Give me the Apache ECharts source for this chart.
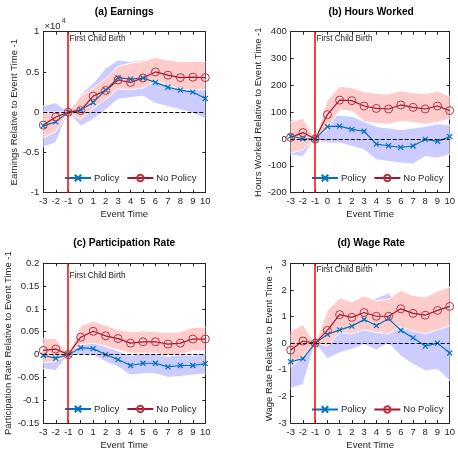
<!DOCTYPE html>
<html>
<head>
<meta charset="utf-8">
<script src="https://cdn.jsdelivr.net/npm/echarts@6/dist/echarts.min.js"></script>
<style>
html,body{margin:0;padding:0;background:#fff;}
#chart{width:458px;height:451px;}
</style>
</head>
<body>
<div id="chart"></div>
<script>
// ---------------- DATA ----------------
const EVENT_TIME = [-3,-2,-1,0,1,2,3,4,5,6,7,8,9,10];
const EVENT_X = -1;   // first child birth
const ZERO = 0;

// (a) Earnings (x10^4)
const earnPolicy    = [-0.17,-0.12,0,0.03,0.12,0.275,0.43,0.41,0.425,0.37,0.31,0.275,0.25,0.17];
const earnNoPolicy  = [-0.16,-0.06,0,0.02,0.20,0.27,0.40,0.37,0.425,0.50,0.46,0.43,0.435,0.43];
const earnPolicyLo  = [-0.43,-0.38,0,-0.17,-0.09,0.03,0.16,0.18,0.20,0.11,0.07,0.03,-0.01,-0.08];
const earnPolicyHi  = [0.08,0.12,0,0.22,0.36,0.55,0.65,0.63,0.65,0.63,0.55,0.52,0.51,0.41];
const earnNoPolLo   = [-0.32,-0.24,0,-0.09,0.05,0.155,0.29,0.28,0.30,0.39,0.34,0.28,0.28,0.28];
const earnNoPolHi   = [0.0,0.0,0,0.20,0.30,0.42,0.57,0.61,0.63,0.68,0.65,0.63,0.63,0.63];

// (b) Hours worked
const hoursPolicy   = [11,1,0,46,48,36,29,-19,-25,-31,-26,-1,-9,9];
const hoursNoPolicy = [6,24,0,91,145,143,123,114,112,127,118,112,123,106];
const hoursPolicyLo = [-60,-65,0,-15,-15,-27,-40,-77,-83,-89,-93,-65,-71,-58];
const hoursPolicyHi = [75,70,0,85,88,85,66,47,41,35,41,47,57,53];
const hoursNoPolLo  = [-53,-40,0,37,108,104,65,58,55,65,62,55,62,75];
const hoursNoPolHi  = [64,77,0,145,196,192,176,170,168,180,172,170,178,160];

// (c) Participation rate
const partPolicy    = [-0.002,-0.008,0,0.015,0.013,0,-0.011,-0.024,-0.019,-0.019,-0.027,-0.024,-0.024,-0.020];
const partNoPolicy  = [0.009,0.012,0,0.038,0.051,0.041,0.035,0.025,0.028,0.028,0.023,0.025,0.034,0.034];
const partPolicyLo  = [-0.031,-0.035,0,0.0,0.0,-0.016,-0.027,-0.045,-0.042,-0.042,-0.050,-0.048,-0.045,-0.043];
const partPolicyHi  = [0.025,0.020,0,0.032,0.030,0.018,0.008,-0.002,0.002,0.002,-0.004,0.0,-0.002,0.003];
const partNoPolLo   = [-0.018,-0.015,0,0.022,0.025,0.018,0.010,0.003,0.003,0.003,-0.002,0.0,0.008,0.008];
const partNoPolHi   = [0.035,0.035,0,0.063,0.073,0.064,0.055,0.050,0.052,0.050,0.048,0.050,0.060,0.060];

// (d) Wage rate
const wagePolicy    = [-0.70,-0.58,0,0.33,0.50,0.64,0.89,0.66,0.92,0.48,0.20,-0.11,0.0,-0.37];
const wageNoPolicy  = [-0.26,0.08,0,0.48,1.07,0.97,1.15,1.01,1.01,1.29,1.12,1.05,1.23,1.38];
const wagePolicyLo  = [-1.7,-1.55,0,-0.58,-0.36,-0.23,-0.05,-0.26,0.0,-0.48,-0.79,-1.04,-0.98,-1.41];
const wagePolicyHi  = [0.3,0.45,0,1.25,1.40,1.50,1.57,1.70,1.88,1.45,1.20,0.85,0.95,0.65];
const wageNoPolLo   = [-0.9,-0.5,0,-0.1,0.40,0.35,0.50,0.40,0.35,0.60,0.45,0.35,0.50,0.65];
const wageNoPolHi   = [0.45,0.70,0,1.22,1.70,1.55,1.78,1.60,1.65,1.98,1.80,1.73,1.95,2.12];

const titles = ['(a) Earnings','(b) Hours Worked','(c) Participation Rate','(d) Wage Rate'];
const yNames = ['Earnings Relative to Event Time -1','Hours Worked Relative to Event Time -1',
                'Participation Rate Relative to Event Time -1','Wage Rate Relative to Event Time -1'];
const yMins = [-1,-200,-0.15,-3];
const yMaxs = [1,400,0.2,3];
const yIntervals = [0.5,100,0.05,1];
const xName = 'Event Time';
const seriesNames = ['Policy','No Policy'];
const markerLabel = 'First Child Birth';

const panelData = [
  [earnPolicy, earnNoPolicy, earnPolicyLo, earnPolicyHi, earnNoPolLo, earnNoPolHi],
  [hoursPolicy, hoursNoPolicy, hoursPolicyLo, hoursPolicyHi, hoursNoPolLo, hoursNoPolHi],
  [partPolicy, partNoPolicy, partPolicyLo, partPolicyHi, partNoPolLo, partNoPolHi],
  [wagePolicy, wageNoPolicy, wagePolicyLo, wagePolicyHi, wageNoPolLo, wageNoPolHi]
];

// ---------------- LAYOUT / STYLE ----------------
const FONT = '"Liberation Sans", Arial, Helvetica, sans-serif';
const TXT = '#262626';
const BLUE = '#0072BD', RED = '#A2142F';
const BLUE_BAND = '#ccccff', PINK_BAND = '#ffcccc';
const grids = [
  {left:43.3, top:31.7, width:162, height:161},
  {left:290.7, top:31.7, width:161, height:161},
  {left:43.3, top:263.3, width:162, height:161.7},
  {left:290.7, top:263.3, width:161, height:161}
];
const yNameGaps = [21, 19, 27, 16];
const legendPos = [{left:64, top:173},{left:311, top:173},{left:64, top:404},{left:311, top:404.5}];
const titlePos = [[124.3,11.7],[371.2,11.7],[124.3,243.3],[371.2,243.3]];
const markerTextPos = [[69.5,39],[316.5,38.5],[69.5,275.7],[316.5,270]];
const X_PATH = 'path://M0,0L10,10M10,0L0,10';

function fmt(v){ return String(Math.round(v*10000)/10000); }

const xAxes = [], yAxes = [], series = [], legends = [], graphics = [];

grids.forEach((g, gi) => {
  const axisLine = {show:true, onZero:false, lineStyle:{color:TXT, width:1}};
  const tick = {show:true, inside:true, length:3, lineStyle:{color:TXT, width:1}};
  xAxes.push({type:'value', gridIndex:gi, min:-3, max:10, interval:1, position:'bottom',
    axisLine, axisTick:tick, splitLine:{show:false},
    axisLabel:{fontSize:9.5, color:TXT, fontFamily:FONT, margin:4, formatter:fmt},
    name:xName, nameLocation:'middle', nameGap:17,
    nameTextStyle:{fontSize:9.5, color:TXT, fontFamily:FONT}});
  xAxes.push({type:'value', gridIndex:gi, min:-3, max:10, interval:1, position:'top',
    axisLine, axisTick:tick, splitLine:{show:false}, axisLabel:{show:false}});
  yAxes.push({type:'value', gridIndex:gi, min:yMins[gi], max:yMaxs[gi], interval:yIntervals[gi], position:'left',
    axisLine, axisTick:tick, splitLine:{show:false},
    axisLabel:{fontSize:9.5, color:TXT, fontFamily:FONT, margin:4, formatter:fmt},
    name:yNames[gi], nameLocation:'middle', nameGap:yNameGaps[gi], nameRotate:90,
    nameTextStyle:{fontSize:9.5, color:TXT, fontFamily:FONT}});
  yAxes.push({type:'value', gridIndex:gi, min:yMins[gi], max:yMaxs[gi], interval:yIntervals[gi], position:'right',
    axisLine, axisTick:tick, splitLine:{show:false}, axisLabel:{show:false}});

  const [pol, nop, pLo, pHi, nLo, nHi] = panelData[gi];
  const xi = gi*2, yi = gi*2;

  function band(lo, hi, color, z){
    return {
      type:'custom', xAxisIndex:xi, yAxisIndex:yi, z:z, silent:true,
      data: EVENT_TIME.map((x,i)=>[x, lo[i], hi[i]]),
      encode:{x:0, y:[1,2]},
      renderItem:(params, api) => {
        if (params.dataIndex !== 0) return null;
        const up = EVENT_TIME.map((x,i)=>api.coord([x, hi[i]]));
        const dn = EVENT_TIME.map((x,i)=>api.coord([x, lo[i]]));
        return {type:'group', children:[
          {type:'polygon', shape:{points: up.concat(dn.slice().reverse())}, style:{fill:color, stroke:null}},
          {type:'polyline', shape:{points: up}, style:{fill:null, stroke:'#ffffff', lineWidth:1}},
          {type:'polyline', shape:{points: dn}, style:{fill:null, stroke:'#ffffff', lineWidth:1}}
        ]};
      }
    };
  }
  series.push(band(pLo, pHi, BLUE_BAND, 1));
  series.push(band(nLo, nHi, PINK_BAND, 1));

  // reference lines
  series.push({type:'line', xAxisIndex:xi, yAxisIndex:yi, z:2, silent:true, symbol:'none',
    data:[[EVENT_X, ZERO]],
    markLine:{silent:true, symbol:['none','none'], label:{show:false}, animation:false,
      data:[
        {yAxis:ZERO, lineStyle:{color:'#000000', width:1.2, type:[4,2]}},
        {xAxis:EVENT_X, lineStyle:{color:'#FF0000', width:1.5, type:'solid'}}
      ]}});

  series.push({type:'line', name:seriesNames[0], xAxisIndex:xi, yAxisIndex:yi, z:3,
    data: EVENT_TIME.map((x,i)=>[x, pol[i]]),
    symbol:X_PATH, symbolSize:5, showSymbol:true,
    lineStyle:{color:BLUE, width:1.2},
    itemStyle:{color:BLUE, borderColor:BLUE, borderWidth:1.2}});
  series.push({type:'line', name:seriesNames[1], xAxisIndex:xi, yAxisIndex:yi, z:3,
    data: EVENT_TIME.map((x,i)=>[x, nop[i]]),
    symbol:'circle', symbolSize:8, showSymbol:true,
    lineStyle:{color:RED, width:1.2},
    itemStyle:{color:'rgba(0,0,0,0)', borderColor:'#B8323F', borderWidth:1}});

  legends.push({left:legendPos[gi].left, top:legendPos[gi].top, padding:0, itemGap:7,
    itemWidth:26, itemHeight:8, data:seriesNames, selectedMode:false,
    textStyle:{fontSize:9.5, color:TXT, fontFamily:FONT, padding:[0,0,0,-2]}});

  graphics.push({type:'text', x:titlePos[gi][0], y:titlePos[gi][1], z:10,
    style:{text:titles[gi], font:'bold 10.2px '+FONT, fill:'#000', textAlign:'center', textVerticalAlign:'middle'}});
  graphics.push({type:'text', x:markerTextPos[gi][0], y:markerTextPos[gi][1], z:10,
    style:{text:markerLabel, font:'8.2px '+FONT, fill:'#1a1a1a', textAlign:'left', textVerticalAlign:'middle'}});
});

// x10^4 multiplier for panel (a)
graphics.push({type:'text', x:44.5, y:26.5, z:10, style:{text:'×10', font:'9.5px '+FONT, fill:TXT, textAlign:'left', textVerticalAlign:'middle'}});
graphics.push({type:'text', x:61.8, y:21.5, z:10, style:{text:'4', font:'7px '+FONT, fill:TXT, textAlign:'left', textVerticalAlign:'middle'}});

const chart = echarts.init(document.getElementById('chart'), null, {renderer:'canvas'});
chart.setOption({
  animation:false,
  backgroundColor:'#ffffff',
  textStyle:{fontFamily:FONT},
  grid: grids.map(g=>Object.assign({containLabel:false}, g)),
  xAxis:xAxes, yAxis:yAxes, series:series, legend:legends, graphic:graphics
});
</script>
</body>
</html>
